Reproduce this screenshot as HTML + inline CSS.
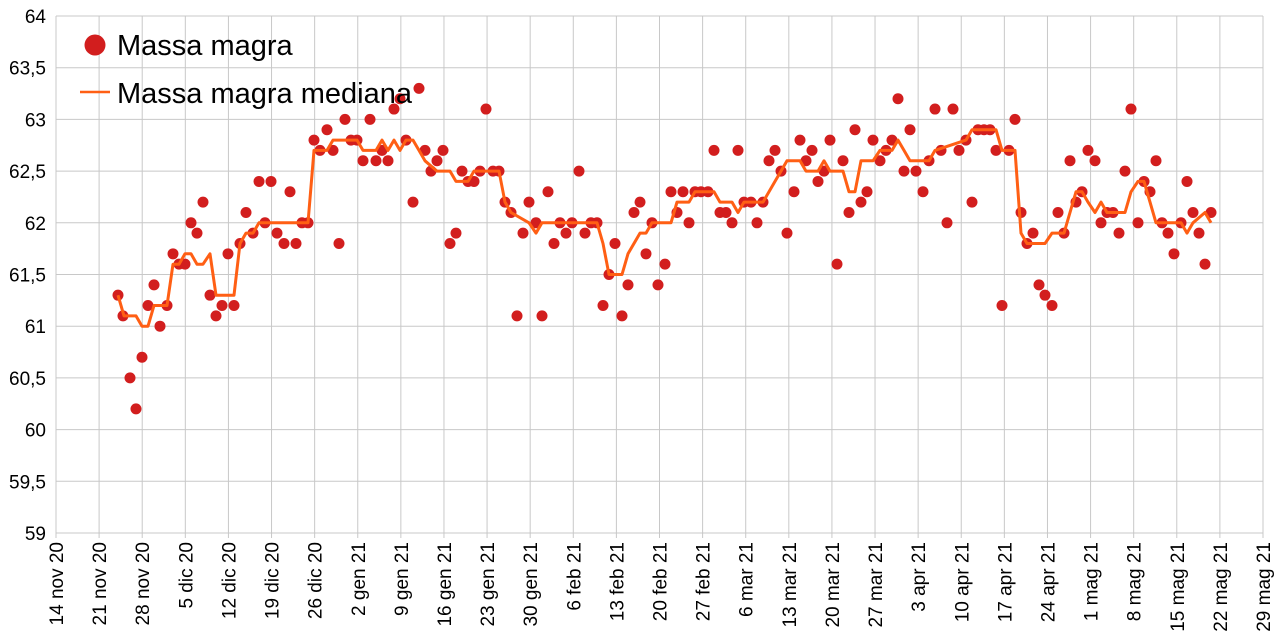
<!DOCTYPE html>
<html><head><meta charset="utf-8"><style>
html,body{margin:0;padding:0;background:#fff;}
svg{display:block;font-family:"Liberation Sans",sans-serif;}
</style></head><body>
<svg id="c" width="1280" height="637" xmlns="http://www.w3.org/2000/svg"></svg>
<script>
const NS="http://www.w3.org/2000/svg",s=document.getElementById('c');
function el(t,a,txt){const e=document.createElementNS(NS,t);for(const k in a)e.setAttribute(k,a[k]);if(txt!=null)e.textContent=txt;s.appendChild(e);return e;}
const X0=56,X1=1263,Y=v=>16+(64-v)*103.4;
// horizontal grid
for(let i=0;i<=10;i++){const v=59+i*0.5,y=Y(v);el('line',{x1:X0,x2:X1,y1:y,y2:y,stroke:'#c8c8c8','stroke-width':1});
el('text',{x:46,y:y+7,'text-anchor':'end','font-size':19,fill:'#000'},(Number.isInteger(v)?String(v):v.toFixed(1).replace('.',',')));}
const labs=["14 nov 20","21 nov 20","28 nov 20","5 dic 20","12 dic 20","19 dic 20","26 dic 20","2 gen 21","9 gen 21","16 gen 21","23 gen 21","30 gen 21","6 feb 21","13 feb 21","20 feb 21","27 feb 21","6 mar 21","13 mar 21","20 mar 21","27 mar 21","3 apr 21","10 apr 21","17 apr 21","24 apr 21","1 mag 21","8 mag 21","15 mag 21","22 mag 21","29 mag 21"];
labs.forEach((l,i)=>{const x=X0+i*(X1-X0)/28;el('line',{x1:x,x2:x,y1:16,y2:538,stroke:'#c8c8c8','stroke-width':1});
el('text',{x:0,y:0,transform:`translate(${x+7},542) rotate(-90)`,'text-anchor':'end','font-size':19,fill:'#000'},l);});
el('line',{x1:X0,x2:X0,y1:16,y2:533,stroke:'#c8c8c8'});
const pts=[[118,61.3],[123,61.1],[130,60.5],[136,60.2],[142,60.7],[148,61.2],[154,61.4],[160,61.0],[167,61.2],[173,61.7],[179,61.6],[185,61.6],[191,62.0],[197,61.9],[203,62.2],[210,61.3],[216,61.1],[222,61.2],[228,61.7],[234,61.2],[240,61.8],[246,62.1],[253,61.9],[259,62.4],[265,62.0],[271,62.4],[277,61.9],[284,61.8],[290,62.3],[296,61.8],[302,62.0],[308,62.0],[314,62.8],[320,62.7],[327,62.9],[333,62.7],[339,61.8],[345,63.0],[351,62.8],[357,62.8],[363,62.6],[370,63.0],[376,62.6],[382,62.7],[388,62.6],[394,63.1],[400,63.2],[406,62.8],[413,62.2],[419,63.3],[425,62.7],[431,62.5],[437,62.6],[443,62.7],[450,61.8],[456,61.9],[462,62.5],[468,62.4],[474,62.4],[480,62.5],[486,63.1],[493,62.5],[499,62.5],[505,62.2],[511,62.1],[517,61.1],[523,61.9],[529,62.2],[536,62.0],[542,61.1],[548,62.3],[554,61.8],[560,62.0],[566,61.9],[572,62.0],[579,62.5],[585,61.9],[591,62.0],[597,62.0],[603,61.2],[609,61.5],[615,61.8],[622,61.1],[628,61.4],[634,62.1],[640,62.2],[646,61.7],[652,62.0],[658,61.4],[665,61.6],[671,62.3],[677,62.1],[683,62.3],[689,62.0],[695,62.3],[701,62.3],[708,62.3],[714,62.7],[720,62.1],[726,62.1],[732,62.0],[738,62.7],[744,62.2],[751,62.2],[757,62.0],[763,62.2],[769,62.6],[775,62.7],[781,62.5],[787,61.9],[794,62.3],[800,62.8],[806,62.6],[812,62.7],[818,62.4],[824,62.5],[830,62.8],[837,61.6],[843,62.6],[849,62.1],[855,62.9],[861,62.2],[867,62.3],[873,62.8],[880,62.6],[886,62.7],[892,62.8],[898,63.2],[904,62.5],[910,62.9],[916,62.5],[923,62.3],[929,62.6],[935,63.1],[941,62.7],[947,62.0],[953,63.1],[959,62.7],[966,62.8],[972,62.2],[978,62.9],[984,62.9],[990,62.9],[996,62.7],[1002,61.2],[1009,62.7],[1015,63.0],[1021,62.1],[1027,61.8],[1033,61.9],[1039,61.4],[1045,61.3],[1052,61.2],[1058,62.1],[1064,61.9],[1070,62.6],[1076,62.2],[1082,62.3],[1088,62.7],[1095,62.6],[1101,62.0],[1107,62.1],[1113,62.1],[1119,61.9],[1125,62.5],[1131,63.1],[1138,62.0],[1144,62.4],[1150,62.3],[1156,62.6],[1162,62.0],[1168,61.9],[1174,61.7],[1181,62.0],[1187,62.4],[1193,62.1],[1199,61.9],[1205,61.6],[1211,62.1]];
const med=[[118,61.3],[124,61.1],[136,61.1],[142,61.0],[148,61.0],[154,61.2],[167,61.2],[173,61.6],[179,61.6],[185,61.7],[191,61.7],[197,61.6],[203,61.6],[210,61.7],[216,61.3],[228,61.3],[234,61.3],[240,61.8],[246,61.9],[253,61.9],[259,62.0],[308,62.0],[314,62.7],[327,62.7],[333,62.8],[357,62.8],[363,62.7],[376,62.7],[382,62.8],[388,62.7],[394,62.8],[400,62.7],[406,62.8],[413,62.8],[419,62.7],[425,62.6],[437,62.5],[450,62.5],[456,62.4],[468,62.4],[474,62.5],[499,62.5],[505,62.2],[511,62.1],[529,62.0],[536,61.9],[542,62.0],[597,62.0],[603,61.8],[609,61.5],[622,61.5],[628,61.7],[640,61.9],[646,61.9],[652,62.0],[671,62.0],[677,62.2],[689,62.2],[695,62.3],[714,62.3],[720,62.2],[732,62.2],[738,62.1],[744,62.2],[763,62.2],[769,62.3],[775,62.4],[781,62.5],[787,62.6],[800,62.6],[806,62.5],[818,62.5],[824,62.6],[830,62.5],[843,62.5],[849,62.3],[855,62.3],[861,62.6],[873,62.6],[880,62.7],[892,62.7],[898,62.8],[904,62.7],[910,62.6],[929,62.6],[935,62.7],[966,62.8],[972,62.9],[996,62.9],[1002,62.7],[1015,62.7],[1021,61.9],[1027,61.8],[1045,61.8],[1052,61.9],[1064,61.9],[1070,62.1],[1076,62.3],[1082,62.3],[1088,62.2],[1095,62.1],[1101,62.2],[1107,62.1],[1125,62.1],[1131,62.3],[1138,62.4],[1144,62.4],[1150,62.2],[1156,62.0],[1181,62.0],[1187,61.9],[1193,62.0],[1205,62.1],[1211,62.0]];
pts.forEach(p=>el('circle',{cx:p[0],cy:Y(p[1]),r:5.5,fill:'#d21e1e'}));
el('polyline',{points:med.map(p=>p[0]+','+Y(p[1]).toFixed(1)).join(' '),fill:'none',stroke:'#ff5f14','stroke-width':3,'stroke-linejoin':'round'});
// legend
el('circle',{cx:95,cy:45,r:10.5,fill:'#d21e1e'});
el('text',{x:117,y:55,'font-size':29,fill:'#000'},'Massa magra');
el('line',{x1:80,x2:110,y1:92,y2:92,stroke:'#ff5f14','stroke-width':2.5});
el('text',{x:117,y:103,'font-size':29,fill:'#000'},'Massa magra mediana');
</script>
</body></html>
